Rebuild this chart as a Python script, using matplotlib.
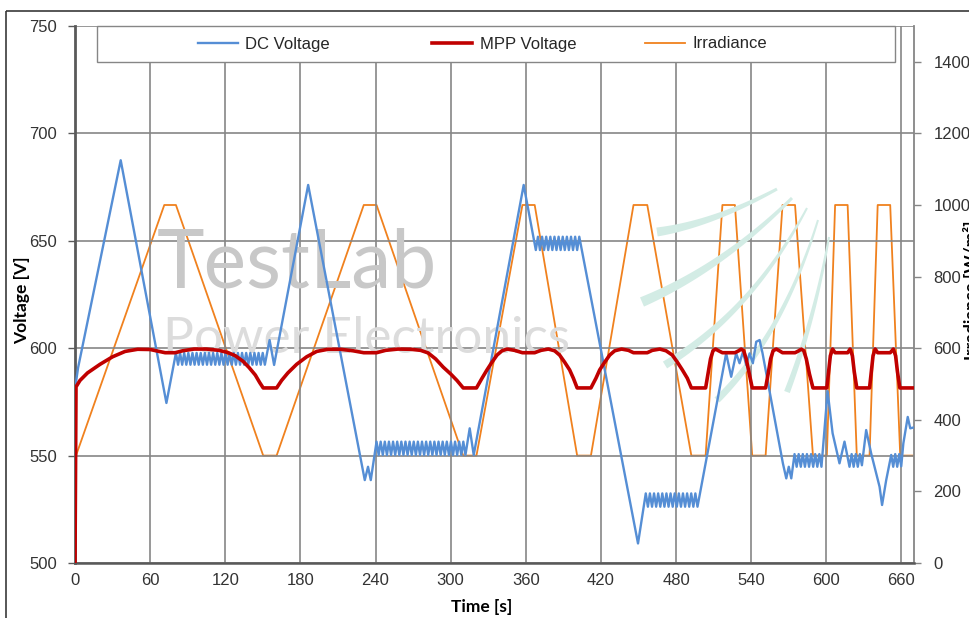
import matplotlib
matplotlib.use("Agg")
import matplotlib.pyplot as plt
import matplotlib.transforms as mtransforms
from matplotlib.patches import Rectangle, Polygon
from matplotlib.lines import Line2D
import numpy as np

plt.rcParams['font.family'] = ['Liberation Sans', 'DejaVu Sans']

# --- data ---
# irradiance profile (W/m2), piecewise linear
irr_time = [0, 0.8, 71.3, 80.6, 150.3, 161, 230.6, 240.8, 310, 320.6, 357.3, 367.1,
            401, 412, 446, 457, 492.2, 503.6, 517, 527, 540.8, 551.5, 565, 575,
            589.3, 600.4, 607, 617, 624.3, 634.5, 641, 651, 659, 670]
irr_value = [0, 300, 1000, 1000, 300, 300, 1000, 1000, 300, 300, 1000, 1000,
             300, 300, 1000, 1000, 300, 300, 1000, 1000, 300, 300, 1000, 1000,
             300, 300, 1000, 1000, 300, 300, 1000, 1000, 300, 300]

# MPP voltage (V)
mpp_voltage = [
    (0, 500), (0.8, 582), (4, 585), (10, 588.5), (20, 592.5), (30, 596), (40, 598.5),
    (50, 599.5), (60, 599.4), (67, 598.5), (72, 597.9), (80, 597.9), (86, 598.8),
    (95, 599.6), (105, 599.6), (115, 599), (122, 598), (128, 596.5), (134, 594),
    (139, 591), (144, 587.5), (147.5, 584), (150.3, 581.5), (161, 581.5), (165, 585),
    (170, 588.5), (177, 592.5), (185, 596), (193, 598.5), (202, 599.5), (212, 599.5),
    (222, 598.8), (230.6, 597.9), (240.8, 597.9), (248, 599), (258, 599.6), (268, 599.5),
    (276, 599), (282, 597.8), (288, 595), (294, 591.2), (300, 588), (305, 585),
    (310, 581.5), (320.6, 581.5), (325, 586), (329, 589.9), (333, 593.5), (337, 596.8),
    (341, 598.8), (345, 599.6), (351, 599), (357.3, 597.9), (367.1, 597.9), (372, 599),
    (378, 599.6), (383, 598.8), (387, 596.8), (391, 593.5), (395, 589.9), (398, 586),
    (401, 581.5), (412, 581.5), (416, 586), (419, 589.9), (423, 593.5), (427, 596.8),
    (431, 598.8), (436.5, 599.6), (442, 599), (446, 597.9), (457, 597.9), (461, 599),
    (467, 599.6), (472, 598.8), (477, 596.8), (481, 593.5), (485, 589.9), (489, 586),
    (492.2, 581.5), (503.6, 581.5), (505.5, 588), (507.5, 595), (509.5, 598.8),
    (511.5, 599.6), (514, 598.8), (517, 597.9), (527, 597.9), (530, 598.8), (532, 599.6),
    (534, 598.8), (536, 595), (538.5, 588), (540.8, 581.5), (551.5, 581.5), (553.5, 588),
    (555.5, 595), (557.5, 598.8), (560, 599.6), (562.5, 598.8), (565, 597.9), (575, 597.9),
    (578, 598.8), (580, 599.6), (582, 598.8), (584, 595), (586.5, 588), (589.3, 581.5),
    (600.4, 581.5), (601.8, 589), (603.2, 596.5), (605, 599.6), (607, 597.9), (617, 597.9),
    (619, 599.6), (620.8, 596.5), (622.3, 589), (624.3, 581.5), (634.5, 581.5),
    (635.9, 589), (637.3, 596.5), (639, 599.6), (641, 597.9), (651, 597.9), (653.5, 599.6),
    (655.3, 596.5), (656.8, 589), (658.7, 581.5), (670, 581.5),
]

# measured DC voltage (V)
dc_voltage = [
    (0.5, 583), (2.5, 591), (36.5, 687.5), (73, 574.5), (80.6, 597.8),
    (82.3, 592.3), (83.9, 597.8), (85.6, 592.3), (87.2, 597.8), (88.9, 592.3), (90.5, 597.8),
    (92.2, 592.3), (93.8, 597.8), (95.5, 592.3), (97.1, 597.8), (98.8, 592.3), (100.4, 597.8),
    (102.1, 592.3), (103.7, 597.8), (105.4, 592.3), (107.0, 597.8), (108.7, 592.3),
    (110.3, 597.8), (112.0, 592.3), (113.6, 597.8), (115.3, 592.3), (116.9, 597.8),
    (118.6, 592.3), (120.2, 597.8), (121.9, 592.3), (123.5, 597.8), (125.2, 592.3),
    (126.8, 597.8), (128.5, 592.3), (130.1, 597.8), (131.8, 592.3), (133.4, 597.8),
    (135.1, 592.3), (136.7, 597.8), (138.4, 592.3), (140.0, 597.8), (141.7, 592.3),
    (143.3, 597.8), (145.0, 592.3), (146.6, 597.8), (148.3, 592.3), (149.9, 597.8),
    (151.6, 592.3), (155.4, 603.8), (159.0, 592.2), (186.2, 676), (231.4, 538.6),
    (234.0, 544.8), (236.2, 538.6), (240.8, 556.5),
    (242.5, 550.3), (244.1, 556.5), (245.8, 550.3), (247.4, 556.5), (249.1, 550.3),
    (250.7, 556.5), (252.4, 550.3), (254.0, 556.5), (255.7, 550.3), (257.3, 556.5),
    (259.0, 550.3), (260.6, 556.5), (262.3, 550.3), (263.9, 556.5), (265.6, 550.3),
    (267.2, 556.5), (268.9, 550.3), (270.5, 556.5), (272.2, 550.3), (273.8, 556.5),
    (275.5, 550.3), (277.1, 556.5), (278.8, 550.3), (280.4, 556.5), (282.1, 550.3),
    (283.7, 556.5), (285.4, 550.3), (287.0, 556.5), (288.7, 550.3), (290.3, 556.5),
    (292.0, 550.3), (293.6, 556.5), (295.3, 550.3), (296.9, 556.5), (298.6, 550.3),
    (300.2, 556.5), (301.9, 550.3), (303.5, 556.5), (305.2, 550.3), (306.8, 556.5),
    (308.5, 550.3), (310.1, 556.5), (311.8, 550.3),
    (315.2, 562.7), (318.4, 550.3), (358.3, 676),
    (368.0, 645.7), (369.7, 651.9), (371.3, 645.7), (373.0, 651.9), (374.6, 645.7),
    (376.3, 651.9), (377.9, 645.7), (379.6, 651.9), (381.2, 645.7), (382.9, 651.9),
    (384.5, 645.7), (386.2, 651.9), (387.8, 645.7), (389.5, 651.9), (391.1, 645.7),
    (392.8, 651.9), (394.4, 645.7), (396.1, 651.9), (397.7, 645.7), (399.4, 651.9),
    (401.0, 645.7), (402.7, 651.9),
    (449.6, 509.1), (455.8, 532.4),
    (457.5, 526.2), (459.1, 532.4), (460.8, 526.2), (462.4, 532.4), (464.1, 526.2),
    (465.7, 532.4), (467.4, 526.2), (469.0, 532.4), (470.7, 526.2), (472.3, 532.4),
    (474.0, 526.2), (475.6, 532.4), (477.3, 526.2), (478.9, 532.4), (480.6, 526.2),
    (482.2, 532.4), (483.9, 526.2), (485.5, 532.4), (487.2, 526.2), (488.8, 532.4),
    (490.5, 526.2), (492.1, 532.4), (493.8, 526.2), (495.4, 532.4), (497.1, 526.2),
    (520.0, 597.6), (524.0, 586.7), (528.0, 597.6), (530.7, 593), (533.4, 598.3),
    (536.0, 592.2), (538.7, 597.6), (541.3, 593), (544.0, 603), (546.7, 603.8),
    (549.0, 597.8), (565.3, 546.4), (568.0, 539.4), (570.0, 544.8), (572.0, 539.4),
    (574.6, 550.7), (576.3, 544.8), (577.9, 550.7), (579.6, 544.8), (581.2, 550.7),
    (582.9, 544.8), (584.5, 550.7), (586.2, 544.8), (587.8, 550.7), (589.5, 544.8),
    (591.1, 550.7), (592.8, 544.8), (594.4, 550.7), (596.1, 544.8),
    (601.0, 580), (605.0, 560.4), (610.5, 546.4), (614.5, 556.5), (618.5, 544.8),
    (620.2, 550.7), (621.8, 544.8), (623.5, 550.7), (625.1, 544.8), (626.8, 550.7),
    (628.4, 545.5), (631.8, 561.9), (635.8, 551), (642.5, 535.5), (644.5, 527),
    (647.8, 538.6), (651.8, 550.3), (653.4, 544.8), (655.0, 550.7), (656.6, 544.8),
    (658.2, 550.7), (659.8, 545), (661.5, 555.7), (665.0, 568), (667.0, 562.7),
    (669.0, 563),
]

x_ticks = list(range(0, 661, 60))
v_ticks = [500, 550, 600, 650, 700, 750]
irr_ticks = list(range(0, 1401, 200))

W, H = 970, 618
fig = plt.figure(figsize=(W / 100, H / 100), dpi=100)
# pixel coordinates (y down) -> figure
px = mtransforms.Affine2D().scale(1 / W, -1 / H).translate(0, 1) + fig.transFigure

ax = fig.add_axes([75 / W, 1 - 563 / H, (914 - 75) / W, (563 - 26) / H])
ax2 = ax.twinx()
ax.set_zorder(ax2.get_zorder() + 1)
ax.patch.set_visible(False)

grid_c = '#868686'
txt_c = '#333333'

# watermark
ax.text(157, 287, 'TestLab', transform=px, fontsize=58, color='#c8c8c8',
        family='Lato', zorder=0.6)
ax.text(163, 353, 'Power Electronics', transform=px, fontsize=37, color='#dcdcdc',
        family='Lato', zorder=0.6)


def stroke(p0, p1, p2, w0, w1):
    s = np.linspace(0, 1, 40)[:, None]
    p0, p1, p2 = map(np.array, (p0, p1, p2))
    pts = (1 - s) ** 2 * p0 + 2 * (1 - s) * s * p1 + s ** 2 * p2
    d = np.gradient(pts, axis=0)
    n = np.column_stack([-d[:, 1], d[:, 0]])
    n /= np.linalg.norm(n, axis=1)[:, None]
    w = (w0 + (w1 - w0) * s) / 2
    poly = np.vstack([pts + n * w, (pts - n * w)[::-1]])
    ax.add_patch(Polygon(poly, closed=True, transform=px, facecolor='#d3ece5',
                         edgecolor='none', zorder=0.6))


stroke((657, 232), (712, 224), (777, 189), 9, 3)
stroke((642, 302), (722, 268), (792, 198), 10, 3)
stroke((665, 365), (752, 312), (807, 208), 8, 2)
stroke((717, 400), (783, 335), (818, 220), 7, 2)
stroke((787, 392), (815, 318), (829, 237), 6, 2)

# series
t_dc, v_dc = zip(*dc_voltage)
t_mpp, v_mpp = zip(*mpp_voltage)
l_dc, = ax.plot(t_dc, v_dc, color='#558ed5', lw=1.7, label='DC Voltage', zorder=3)
l_mpp, = ax.plot(t_mpp, v_mpp, color='#c00000', lw=2.6, label='MPP Voltage', zorder=4)
l_irr, = ax2.plot(irr_time, irr_value, color='#f0811e', lw=1.3, label='Irradiance')

ax.set_xlim(0, 670)
ax.set_ylim(500, 750)
ax2.set_ylim(0, 1500)
ax.set_xticks(x_ticks)
ax.set_yticks(v_ticks)
ax2.set_yticks(irr_ticks)

ax.grid(True, color=grid_c, lw=1.2)
ax.set_axisbelow(True)

for a in (ax, ax2):
    a.spines['top'].set_visible(False)
ax.spines['right'].set_visible(False)
ax2.spines['left'].set_visible(False)
ax2.spines['bottom'].set_visible(False)
ax.spines['left'].set_color('#595959')
ax.spines['left'].set_linewidth(2)
ax.spines['bottom'].set_color('#595959')
ax.spines['bottom'].set_linewidth(1.8)
ax2.spines['right'].set_color(grid_c)
ax2.spines['right'].set_linewidth(1.3)

ax.tick_params(axis='y', length=5, width=1, color='#595959', pad=8,
               labelsize=12, labelcolor=txt_c)
ax.tick_params(axis='x', length=0, pad=7, labelsize=12, labelcolor=txt_c)
ax2.tick_params(axis='y', length=5, width=1, color=grid_c, pad=9,
                labelsize=12, labelcolor=txt_c)

fig.text(22 / W, 1 - 300 / H, 'Voltage [V]', rotation=90, ha='center', va='center',
         fontsize=12.5, fontweight='bold', family='Lato')
fig.text(482 / W, 1 - 607 / H, 'Time [s]', ha='center', va='center',
         fontsize=12.5, fontweight='bold', family='Lato')
fig.text(972 / W, 1 - 290 / H, 'Irradiance [W/m²]', rotation=90, ha='center',
         va='center', fontsize=12.5, fontweight='bold', family='Lato')

# legend box across the top of the plot area
ax.add_patch(Rectangle((97, 26), 798, 36, transform=px, facecolor='white',
                       edgecolor=grid_c, lw=1, zorder=5, clip_on=False))
for h, x0 in zip([l_dc, l_mpp, l_irr], [198, 432, 645]):
    leg = fig.legend([h], [h.get_label()], loc='center left',
                     bbox_to_anchor=(x0 / W, 1 - 44 / H), frameon=False,
                     handlelength=2.4, handletextpad=0.45, borderpad=0,
                     borderaxespad=0, fontsize=12)
    for t in leg.get_texts():
        t.set_color('#262626')

# outer chart border
fig.patches.append(Rectangle((6, 10.5), 990, 640, transform=px, fill=False,
                             edgecolor='#3a3a3a', lw=1.2))

fig.savefig('out.png', dpi=100)
